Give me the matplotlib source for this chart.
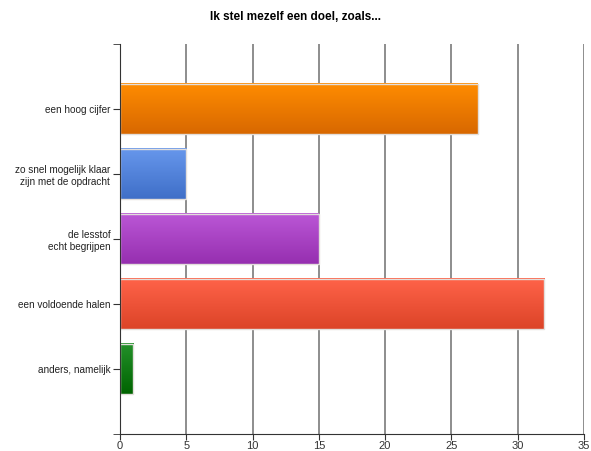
import numpy as np
import matplotlib.pyplot as plt
from matplotlib.colors import LinearSegmentedColormap

categories = ['een hoog cijfer', 'zo snel mogelijk klaar\nzijn met de opdracht',
              'de lesstof\necht begrijpen', 'een voldoende halen', 'anders, namelijk']
values = [27, 5, 15, 32, 1]
top_colors = ['#ff8c00', '#6797ec', '#bb57d6', '#ff6349', '#23902a']
bottom_colors = ['#d86800', '#3f6fc8', '#962fb0', '#dc4428', '#006400']

plt.rcParams['font.family'] = ['Liberation Sans', 'DejaVu Sans']

fig = plt.figure(figsize=(5.91, 4.51), dpi=100)
ax = fig.add_axes([0.203, 0.038, 0.785, 0.864])

pos = np.arange(1, len(values) + 1)
h = 0.78
grad = np.linspace(0, 1, 64).reshape(-1, 1)
for p, v, c1, c2 in zip(pos, values, top_colors, bottom_colors):
    cmap = LinearSegmentedColormap.from_list('g', [c1, c2])
    ax.imshow(grad, cmap=cmap, extent=(0, v, p + h / 2, p - h / 2),
              origin='upper', aspect='auto', interpolation='bilinear', zorder=2)
    ax.add_patch(plt.Rectangle((0, p - h / 2), v, h, fill=False,
                               edgecolor='#e2dedb', lw=1, zorder=3))

ax.set_xlim(0, 35)
ax.set_ylim(6, 0)
ax.set_xticks(np.arange(0, 36, 5))
ax.set_yticks(pos)
ax.set_yticklabels(categories, multialignment='right')
ax.set_yticks([0, 6], minor=True)
ax.grid(axis='x', color='#7a7a7a', lw=1.2)
ax.set_axisbelow(True)
for s in ['top', 'right']:
    ax.spines[s].set_visible(False)
for s in ['left', 'bottom']:
    ax.spines[s].set_color('#333333')
    ax.spines[s].set_zorder(4)
ax.tick_params(axis='y', which='both', length=5, color='#333333', labelsize=7.2,
               labelcolor='#222222', pad=2)
ax.tick_params(axis='x', length=4, color='#333333', labelsize=8,
               labelcolor='#333333', pad=1)

fig.suptitle('Ik stel mezelf een doel, zoals...', y=0.975, fontsize=8.5,
             fontweight='bold')

fig.savefig('out.png', dpi=100)
